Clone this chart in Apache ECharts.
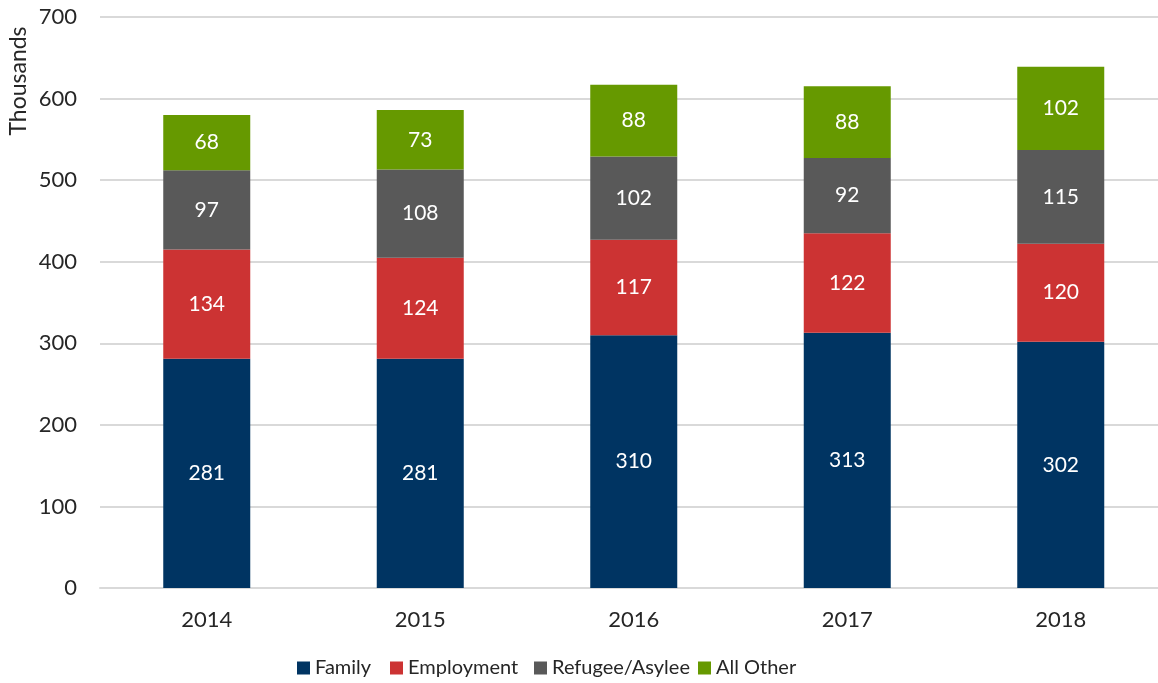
<!DOCTYPE html>
<html>
<head>
<meta charset="utf-8">
<script src="https://cdn.jsdelivr.net/npm/echarts@6/dist/echarts.min.js"></script>
<style>
html,body{margin:0;padding:0;background:#fff;overflow:hidden;}
#chart{width:1168px;height:683px;}
</style>
</head>
<body>
<div id="chart"></div>
<script>
const years = ['2014','2015','2016','2017','2018'];
const family = [281, 281, 310, 313, 302];
const employment = [134, 124, 117, 122, 120];
const refugee = [97, 108, 102, 92, 115];
const allOther = [68, 73, 88, 88, 102];
const seriesNames = ['Family','Employment','Refugee/Asylee','All Other'];
const colors = ['#003462','#CC3333','#595959','#669900'];
const yTicks = [0,100,200,300,400,500,600,700];

const FONT = 'Lato';
const legendLefts = [297, 390, 534, 698];
const chart = echarts.init(document.getElementById('chart'), null, {renderer:'canvas'});
const mk = (name, data, color) => ({
  name, type:'bar', stack:'total', data, barWidth:87,
  itemStyle:{color},
  label:{show:true, position:'inside', color:'#fff', fontSize:21, fontFamily:FONT},
  emphasis:{disabled:true}
});
chart.setOption({
  animation:false,
  color:colors,
  grid:{left:100, right:0.5, top:17, bottom:95, containLabel:false},
  xAxis:{type:'category', data:years,
    axisLine:{show:true, lineStyle:{color:'#d9d9d9', width:2}},
    axisTick:{show:false},
    axisLabel:{color:'#262626', fontSize:22, fontFamily:FONT, margin:21}},
  yAxis:{type:'value', min:yTicks[0], max:yTicks[yTicks.length-1], interval:100,
    axisLine:{show:false}, axisTick:{show:false},
    splitLine:{lineStyle:{color:'#d9d9d9', width:2}},
    axisLabel:{color:'#262626', fontSize:22, fontFamily:FONT, margin:23}},
  legend: seriesNames.map((n, i) => ({
    left:legendLefts[i], top:658, itemWidth:13, itemHeight:13, itemGap:0,
    icon:'rect', padding:0,
    textStyle:{color:'#262626', fontSize:20, fontFamily:FONT},
    data:[n]
  })),
  graphic:[{type:'text', x:19, y:81, rotation:Math.PI/2,
    style:{text:'Thousands', fill:'#262626', font:'23px '+FONT, textAlign:'center', textVerticalAlign:'middle'}}],
  series:[
    mk(seriesNames[0], family, colors[0]),
    mk(seriesNames[1], employment, colors[1]),
    mk(seriesNames[2], refugee, colors[2]),
    mk(seriesNames[3], allOther, colors[3])
  ]
});
</script>
</body>
</html>
